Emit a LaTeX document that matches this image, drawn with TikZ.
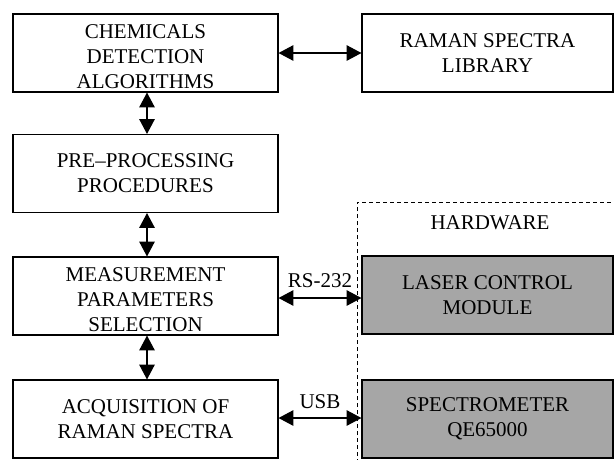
\documentclass[tikz,border=0pt]{standalone}
\usepackage{fontspec}
\setmainfont{Liberation Serif}
\usetikzlibrary{arrows.meta}
\definecolor{hwgray}{HTML}{A6A6A6}
\newcommand{\topgap}{\rule{0pt}{22pt}}
\begin{document}
\begin{tikzpicture}[x=1pt,y=-1pt,
  blk/.style={draw=black,line width=1.8pt,minimum height=78pt,align=center,inner sep=0pt,
    font=\fontsize{21}{25}\selectfont},
  lbox/.style={blk,minimum width=265pt},
  rbox/.style={blk,minimum width=251pt},
  hw/.style={rbox,fill=hwgray},
  conn/.style={line width=2.8pt,{Triangle[length=15pt,width=15pt]}-{Triangle[length=15pt,width=15pt]},shorten <=-0.5pt,shorten >=-0.5pt},
  lbl/.style={font=\fontsize{21}{25}\selectfont,inner sep=0pt}]
\useasboundingbox (0,0) rectangle (614,459);
\draw[dashed,line width=1pt,dash pattern=on 4pt off 3pt] (357,470) -- (357,202) -- (620,202);
\node[lbox] (chem) at (145.5,53) {\topgap CHEMICALS\\DETECTION\\ALGORITHMS};
\node[rbox] (lib) at (487.5,53) {RAMAN SPECTRA\\LIBRARY};
\node[lbox] (pre) at (145.5,173.5) {PRE–PROCESSING\\PROCEDURES};
\node[lbox] (meas) at (145.5,296) {\topgap MEASUREMENT\\PARAMETERS\\SELECTION};
\node[lbox] (acq) at (145.5,419) {ACQUISITION OF\\RAMAN SPECTRA};
\node[hw] (laser) at (487.5,295) {LASER CONTROL\\MODULE};
\node[hw] (spec) at (487.5,419) {SPECTROMETER\\QE65000};
\node[lbl] (hwl) at (490,223) {HARDWARE};
\draw[conn] (chem.east) -- (lib.west);
\draw[conn] (chem.south -| 147,0) -- (pre.north -| 147,0);
\draw[conn] (pre.south -| 147,0) -- (meas.north -| 147,0);
\draw[conn] (meas.east |- 0,298) -- node[lbl,above=9pt] (rs) {RS-232} (laser.west |- 0,298);
\draw[conn] (acq.east |- 0,418) -- node[lbl,above=8pt] (usb) {USB} (spec.west |- 0,418);
\draw[conn] (meas.south -| 147,0) -- (acq.north -| 147,0);
\end{tikzpicture}
\end{document}
